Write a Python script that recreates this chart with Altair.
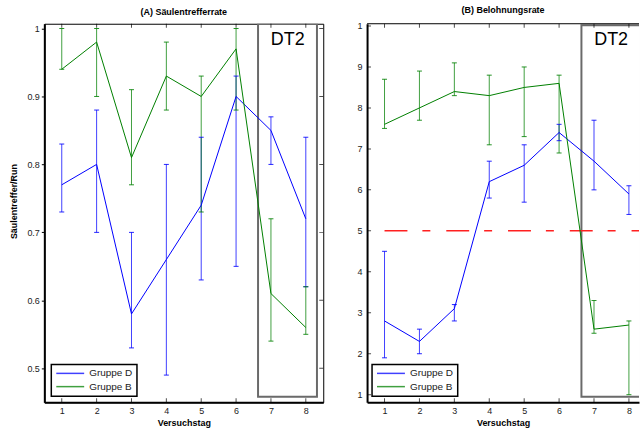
import altair as alt
import pandas as pd

# ---- data -------------------------------------------------------------
days = [1, 2, 3, 4, 5, 6, 7, 8]
groups = ["Gruppe D", "Gruppe B"]

# (A) Säulentrefferrate: mean and error-bar limits per day
hit_d = [0.77, 0.80, 0.58, 0.66, 0.74, 0.90, 0.85, 0.72]
hit_d_lo = [0.73, 0.70, 0.53, 0.49, 0.63, 0.65, 0.80, 0.62]
hit_d_hi = [0.83, 0.88, 0.70, 0.80, 0.84, 0.93, 0.87, 0.84]
hit_b = [0.94, 0.98, 0.81, 0.93, 0.90, 0.97, 0.61, 0.56]
hit_b_lo = [0.94, 0.90, 0.77, 0.88, 0.73, 0.88, 0.54, 0.55]
hit_b_hi = [1.00, 1.00, 0.91, 0.98, 0.93, 1.00, 0.72, 0.62]

# (B) Belohnungsrate
rew_d = [2.8, 2.3, 3.1, 6.2, 6.6, 7.4, 6.7, 5.9]
rew_d_lo = [1.9, 2.0, 2.8, 5.8, 5.7, 7.2, 6.0, 5.4]
rew_d_hi = [4.5, 2.6, 3.2, 6.7, 7.1, 7.6, 7.7, 6.1]
rew_b = [7.6, 8.0, 8.4, 8.3, 8.5, 8.6, 2.6, 2.7]
rew_b_lo = [7.5, 7.7, 8.3, 7.1, 7.3, 6.9, 2.5, 1.0]
rew_b_hi = [8.7, 8.9, 9.1, 8.8, 9.0, 8.8, 3.3, 2.8]

# axis ranges and tick values
hit_x_domain = [0.5, 8.5]
rew_x_domain = [0.5, 8.289]      # panel (B) runs off the right edge of the figure
hit_domain = [0.45, 1.007]
hit_ticks = [0.5, 0.6, 0.7, 0.8, 0.9, 1.0]
rew_domain = [0.815, 10.055]
rew_ticks = [1, 2, 3, 4, 5, 6, 7, 8, 9, 10]

# DT2 region (x0, x1, y0, y1) and label position
hit_dt2 = [6.63, 8.32, 0.458, 1.0065]
hit_dt2_label = [7.48, 0.983]
rew_dt2 = [6.64, 8.32, 0.951, 10.017]
rew_dt2_label = [7.49, 9.65]

# chance level in (B)
chance_x = [1, 8.5]
chance_y = [5, 5]

BLUE = "#0000ff"
GREEN = "#008000"
RED = "#ff2020"
FONT = "Liberation Sans"
H = 380


def long_table(d_mean, d_lo, d_hi, b_mean, b_lo, b_hi):
    rows = []
    for grp, m, lo, hi in ((groups[0], d_mean, d_lo, d_hi),
                           (groups[1], b_mean, b_lo, b_hi)):
        for day, a, l, h in zip(days, m, lo, hi):
            rows.append({"day": day, "Gruppe": grp, "mean": a, "lo": l, "hi": h})
    return pd.DataFrame(rows)


def panel(title, table, x_domain, width, y_domain, y_ticks, dt2, dt2_label,
          y_title, is_left, legend_x, top_label_expr=None, chance=None):
    xscale = alt.Scale(domain=x_domain, nice=False, zero=False)
    yscale = alt.Scale(domain=y_domain, nice=False, zero=False)

    xaxis = alt.Axis(values=days, title="Versuchstag", ticks=False, grid=False,
                     domainColor="black", domainWidth=2, labelFontSize=9,
                     labelPadding=4, labelColor="#222", format="d",
                     titleFontSize=9, titleFontWeight="bold", titlePadding=3,
                     titleColor="black", labelFont=FONT, titleFont=FONT)
    yaxis_kw = dict(values=y_ticks, grid=False, domainColor="black", domainWidth=2,
                    labelFontSize=9, labelColor="#222", labelFont=FONT,
                    titleFont=FONT, titleFontSize=9, titleFontWeight="bold",
                    titleColor="black", format="~g")
    if is_left:
        yaxis_kw.update(ticks=True, tickSize=3, tickColor="black", tickWidth=1,
                        labelPadding=2)
    else:
        yaxis_kw.update(ticks=False, labelPadding=5)
    if y_title:
        yaxis_kw.update(title=y_title, titlePadding=8, titleY=178)
    else:
        yaxis_kw.update(title=None)
    if top_label_expr:
        yaxis_kw.update(labelExpr=top_label_expr)
    yaxis = alt.Axis(**yaxis_kw)

    def xq(field):
        return alt.X(field, type="quantitative", scale=xscale, axis=xaxis)

    def yq(field):
        return alt.Y(field, type="quantitative", scale=yscale, axis=yaxis)

    color = alt.Color(
        "Gruppe:N",
        scale=alt.Scale(domain=groups, range=[BLUE, GREEN]),
        legend=alt.Legend(
            title=None, orient="none", legendX=legend_x, legendY=342,
            symbolType="stroke", symbolSize=784, symbolStrokeWidth=1.5,
            labelFontSize=10, labelFont=FONT, labelColor="#222",
            clipHeight=10, padding=4, rowPadding=3.3, labelOffset=4,
            strokeColor="black", fillColor="white", symbolOpacity=0.75,
        ),
    )

    base = alt.Chart(table)

    box_df = pd.DataFrame({"x0": [dt2[0]], "x1": [dt2[1]], "y0": [dt2[2]], "y1": [dt2[3]]})
    box = alt.Chart(box_df).mark_rect(fillOpacity=0, stroke="#6a6a6a", strokeWidth=2,
                                      clip=True).encode(
        x=xq("x0"), x2=alt.X2("x1"), y=yq("y0"), y2=alt.Y2("y1"))

    lab_df = pd.DataFrame({"x": [dt2_label[0]], "y": [dt2_label[1]], "t": ["DT2"]})
    label = alt.Chart(lab_df).mark_text(font=FONT, fontSize=18, color="black",
                                        baseline="middle", align="center").encode(
        x=xq("x"), y=yq("y"), text="t:N")

    bars = base.mark_rule(strokeWidth=1, opacity=0.75).encode(
        x=xq("day"), y=yq("lo"), y2=alt.Y2("hi"), color=color)
    cap_lo = base.mark_tick(orient="horizontal", size=5, thickness=1, opacity=0.85).encode(
        x=xq("day"), y=yq("lo"), color=color)
    cap_hi = base.mark_tick(orient="horizontal", size=5, thickness=1, opacity=0.85).encode(
        x=xq("day"), y=yq("hi"), color=color)
    lines = base.mark_line(strokeWidth=1).encode(
        x=xq("day"), y=yq("mean"), color=color, order="day:Q")

    # inward frame ticks on bottom and top edges
    bt = pd.DataFrame({"day": days * 2,
                       "yy": [y_domain[0]] * len(days) + [y_domain[1]] * len(days)})
    frame_x = alt.Chart(bt).mark_tick(orient="vertical", size=8, thickness=1,
                                      color="black", clip=True).encode(
        x=xq("day"), y=yq("yy"))
    # inward ticks on the right edge (A) or the left edge (B)
    side = x_domain[1] if is_left else x_domain[0]
    rt = pd.DataFrame({"xx": [side] * len(y_ticks), "yv": list(y_ticks)})
    frame_y = alt.Chart(rt).mark_tick(orient="horizontal", size=8, thickness=1,
                                      color="black", clip=True).encode(
        x=xq("xx"), y=yq("yv"))

    layers = [box, label, bars, cap_lo, cap_hi]
    if chance is not None:
        ch_df = pd.DataFrame({"cx": chance[0], "cy": chance[1]})
        layers.append(alt.Chart(ch_df).mark_line(
            color=RED, strokeWidth=1.5, strokeDash=[23, 15, 8, 16], clip=True).encode(
            x=xq("cx"), y=yq("cy")))
    layers += [lines, frame_x, frame_y]

    props = dict(
        width=width, height=H,
        title=alt.TitleParams(title, fontSize=9, fontWeight="bold", font=FONT,
                              offset=7, anchor="middle", color="black"),
    )
    if not is_left:
        # top edge only; the right edge lies outside the figure
        top_df = pd.DataFrame({"yt": [y_domain[1]]})
        layers.append(alt.Chart(top_df).mark_rule(color="black", strokeWidth=1).encode(
            y=yq("yt")))
        props["view"] = alt.ViewBackground(stroke="transparent")
    return alt.layer(*layers).properties(**props)


left = panel("(A) Säulentrefferrate",
             long_table(hit_d, hit_d_lo, hit_d_hi, hit_b, hit_b_lo, hit_b_hi),
             hit_x_domain, 280, hit_domain, hit_ticks, hit_dt2, hit_dt2_label,
             "Säulentreffer/Run", is_left=True, legend_x=7)
right = panel("(B) Belohnungsrate",
              long_table(rew_d, rew_d_lo, rew_d_hi, rew_b, rew_b_lo, rew_b_hi),
              rew_x_domain, 273, rew_domain, rew_ticks, rew_dt2, rew_dt2_label,
              None, is_left=False, legend_x=5,
              top_label_expr="datum.value == 10 ? '1' : datum.label",
              chance=(chance_x, chance_y))

chart = alt.hconcat(left, right, spacing=44, bounds="flush").resolve_legend(
    color="independent"
).configure_view(
    stroke="black", strokeWidth=1
).configure_legend(
    strokeWidth=1.5
).properties(
    padding={"left": 8.5, "top": 4, "right": 0, "bottom": 0},
    background="white",
)

chart.save("out.html", embed_options={"renderer": "svg", "actions": False})
